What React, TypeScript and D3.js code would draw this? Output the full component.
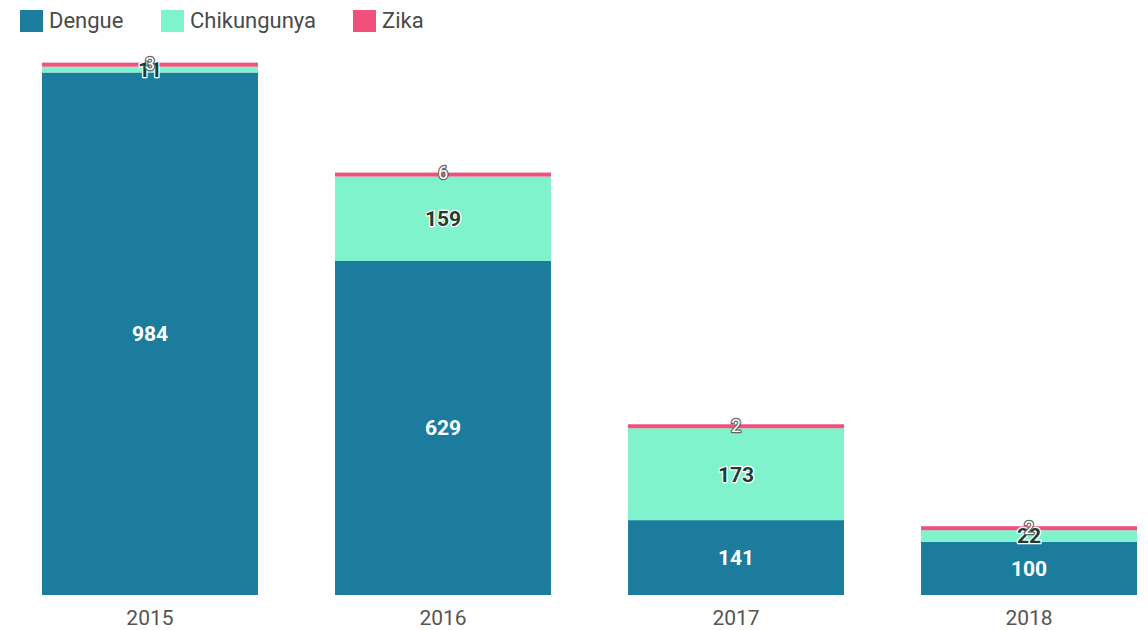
import React from 'react';
import * as d3 from 'd3';

const years = ['2015', '2016', '2017', '2018'];
const dengue = [984, 629, 141, 100];
const chikungunya = [11, 159, 173, 22];
const zika = [3, 6, 2, 2];

const seriesNames = ['Dengue', 'Chikungunya', 'Zika'];
const seriesColors = ['#1c7c9d', '#7ff3cb', '#f2507c'];
const labelFill = ['#ffffff', '#1d3d33', '#ffffff'];
const labelStroke = ['none', '#ffffff', '#666666'];

export default function App() {
  const w = 1148;
  const h = 630;

  const rows = years.map((yr, i) => ({
    year: yr,
    Dengue: dengue[i],
    Chikungunya: chikungunya[i],
    Zika: zika[i],
  }));

  const stacked = d3.stack<any>().keys(seriesNames)(rows);

  const x = d3
    .scaleBand()
    .domain(years)
    .range([42, 1137])
    .paddingInner(0.263)
    .paddingOuter(0);

  const y = d3.scaleLinear().domain([0, 1000]).range([595, 64]);

  const legendX = [20, 161, 353];

  return (
    <svg
      width={w}
      height={h}
      style={{ position: 'absolute', left: 0, top: 0, background: '#fff' }}
      fontFamily="Roboto, 'Noto Sans', sans-serif"
    >
      {seriesNames.map((name, i) => (
        <g key={name} transform={`translate(${legendX[i]},10)`}>
          <rect width={23} height={22} fill={seriesColors[i]} />
          <text x={29} y={18} fontSize={22} fill="#4a4a4a">
            {name}
          </text>
        </g>
      ))}

      {stacked.map((layer, si) => (
        <g key={layer.key}>
          {layer.map((d: any) => {
            const x0 = x(d.data.year) as number;
            const top = y(d[1]);
            const bottom = y(d[0]);
            let hh = bottom - top;
            let ty = top;
            if (si === 2 && hh < 4) {
              ty = bottom - 4;
              hh = 4;
            }
            return (
              <rect
                key={d.data.year}
                x={x0}
                y={ty}
                width={x.bandwidth()}
                height={hh}
                fill={seriesColors[si]}
              />
            );
          })}
        </g>
      ))}

      {stacked.map((layer, si) => (
        <g key={'l' + layer.key}>
          {layer.map((d: any) => {
            const cx = (x(d.data.year) as number) + x.bandwidth() / 2;
            const cy = (y(d[0]) + y(d[1])) / 2;
            const v = d[1] - d[0];
            return (
              <text
                key={d.data.year}
                x={cx}
                y={si === 2 ? cy - 2 : cy}
                dy="0.35em"
                textAnchor="middle"
                fontSize={si === 2 ? 18 : 21}
                fontWeight={si === 2 ? 400 : 700}
                fill={labelFill[si]}
                stroke={labelStroke[si]}
                strokeWidth={si === 0 ? 0 : 2.5}
                paintOrder="stroke"
                strokeLinejoin="round"
              >
                {v}
              </text>
            );
          })}
        </g>
      ))}

      {years.map((yr) => (
        <text
          key={yr}
          x={(x(yr) as number) + x.bandwidth() / 2}
          y={625}
          textAnchor="middle"
          fontSize={21}
          fill="#555"
        >
          {yr}
        </text>
      ))}
    </svg>
  );
}
